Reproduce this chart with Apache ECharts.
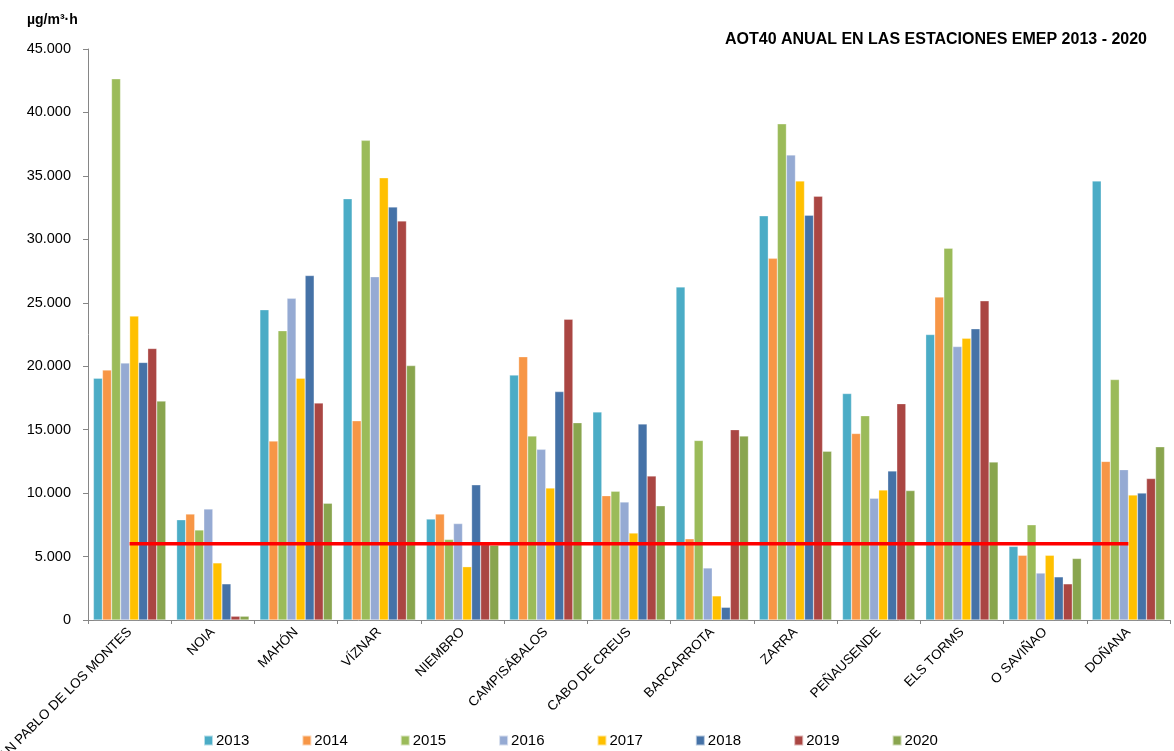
<!DOCTYPE html>
<html>
<head>
<meta charset="utf-8">
<script src="https://cdn.jsdelivr.net/npm/echarts@6/dist/echarts.min.js"></script>
<style>
html,body{margin:0;padding:0;background:#fff;overflow:hidden;}
#chart{width:1174px;height:751px;}
</style>
</head>
<body>
<div id="chart"></div>
<script>
const estaciones = ['SAN PABLO DE LOS MONTES','NOIA','MAHÓN','VÍZNAR','NIEMBRO','CAMPISÁBALOS','CABO DE CREUS','BARCARROTA','ZARRA','PEÑAUSENDE','ELS TORMS','O SAVIÑAO','DOÑANA'];
const years = ['2013','2014','2015','2016','2017','2018','2019','2020'];
const v2013 = [19050, 7900, 24450, 33200, 7950, 19300, 16400, 26250, 31850, 17850, 22500, 5800, 34600];
const v2014 = [19700, 8350, 14100, 15700, 8350, 20750, 9800, 6400, 28500, 14700, 25450, 5100, 12500];
const v2015 = [42650, 7100, 22800, 37800, 6350, 14500, 10150, 14150, 39100, 16100, 29300, 7500, 18950];
const v2016 = [20250, 8750, 25350, 27050, 7600, 13450, 9300, 4100, 36650, 9600, 21550, 3700, 11850];
const v2017 = [23950, 4500, 19050, 34850, 4200, 10400, 6850, 1900, 34600, 10250, 22200, 5100, 9850];
const v2018 = [20300, 2850, 27150, 32550, 10650, 18000, 15450, 1000, 31900, 11750, 22950, 3400, 10000];
const v2019 = [21400, 300, 17100, 31450, 5950, 23700, 11350, 15000, 33400, 17050, 25150, 2850, 11150];
const v2020 = [17250, 300, 9200, 20050, 5900, 15550, 9000, 14500, 13300, 10200, 12450, 4850, 13650];
const objetivo = [6000, 6000, 6000, 6000, 6000, 6000, 6000, 6000, 6000, 6000, 6000, 6000, 6000];
const yTicks = [0, 5000, 10000, 15000, 20000, 25000, 30000, 35000, 40000, 45000];

const colors = ['#4BACC6','#F79646','#9BBB59','#95AAD3','#FFC000','#4572A7','#AA4643','#89A54E'];
const valores = [v2013, v2014, v2015, v2016, v2017, v2018, v2019, v2020];
const FONT = 'Liberation Sans';

function fmt(v){ return String(v).replace(/\B(?=(\d{3})+(?!\d))/g, '.'); }

const series = years.map((y, i) => ({
  name: y,
  type: 'bar',
  data: valores[i],
  barGap: '0%',
  barCategoryGap: '13%',
  itemStyle: { color: colors[i], borderColor: 'rgba(255,255,255,0.6)', borderWidth: 0.5 }
}));
series.push({
  name: 'Valor objetivo',
  type: 'line',
  data: objetivo,
  symbol: 'none',
  z: 5,
  lineStyle: { color: '#FF0000', width: 3.5 }
});

const chart = echarts.init(document.getElementById('chart'), null, { renderer: 'canvas', width: 1174, height: 751 });
chart.setOption({
  backgroundColor: '#ffffff',
  animation: false,
  color: colors,
  textStyle: { fontFamily: FONT },
  title: [
    { text: 'AOT40 ANUAL EN LAS ESTACIONES EMEP 2013 - 2020', right: 22, top: 27,
      textStyle: { fontFamily: FONT, fontSize: 16, fontWeight: 'bold', color: '#000' } },
    { text: 'µg/m³·h', left: 22, top: 8,
      textStyle: { fontFamily: FONT, fontSize: 14, fontWeight: 'bold', color: '#000' } }
  ],
  legend: {
    data: years,
    left: 198, top: 728,
    itemWidth: 9, itemHeight: 10, itemGap: 52,
    icon: 'rect',
    textStyle: { fontFamily: FONT, fontSize: 15, color: '#000', padding: [0,0,0,-2] }
  },
  grid: { left: 88, right: 4, top: 49, height: 571, containLabel: false, outerBoundsMode: 'none' },
  xAxis: {
    type: 'category',
    data: estaciones,
    boundaryGap: true,
    axisLine: { lineStyle: { color: '#868686', width: 1 } },
    axisTick: { show: true, length: 4, lineStyle: { color: '#868686' } },
    axisLabel: { rotate: 45, margin: 10, fontFamily: FONT, fontSize: 13.5, color: '#000', interval: 0 }
  },
  yAxis: {
    type: 'value',
    min: 0, max: 45000, interval: 5000,
    axisLine: { show: true, lineStyle: { color: '#868686', width: 1 } },
    axisTick: { show: true, length: 5, lineStyle: { color: '#868686' } },
    splitLine: { show: false },
    axisLabel: { margin: 17, fontFamily: FONT, fontSize: 14.5, color: '#000', formatter: v => yTicks.includes(v) ? fmt(v) : '' }
  },
  series: series
});
</script>
</body>
</html>
